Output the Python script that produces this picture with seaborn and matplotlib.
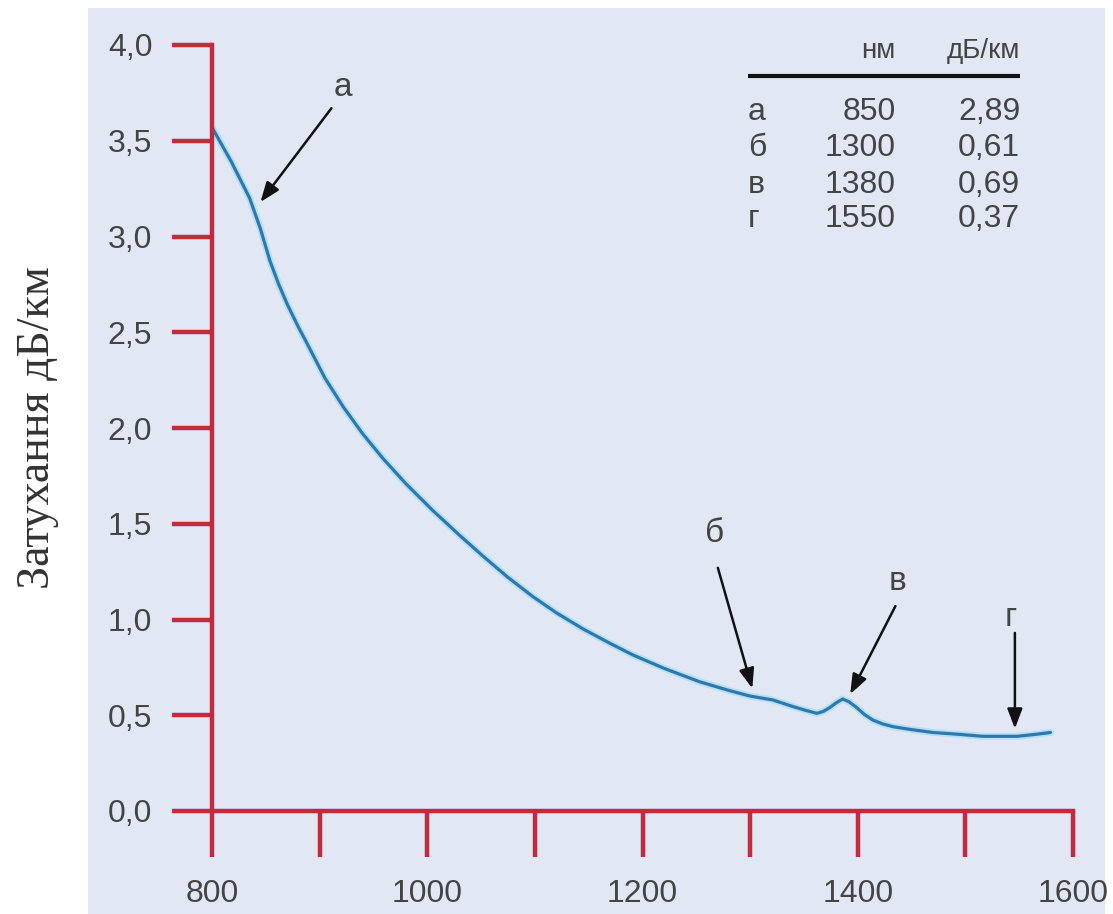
import numpy as np
import pandas as pd
import seaborn as sns
import matplotlib.pyplot as plt
from matplotlib.patches import Rectangle

# крива загасання (довжина хвилі, нм / дБ/км)
wavelength = [800, 818, 835, 845, 854, 862, 870, 880, 888, 905, 922, 940, 959, 980, 1005,
              1030, 1052, 1075, 1098, 1120, 1145, 1170, 1191, 1220, 1253, 1280, 1300,
              1321, 1340, 1352, 1362, 1368, 1374, 1380, 1386, 1392, 1399, 1406, 1414,
              1423, 1433, 1450, 1470, 1495, 1516, 1548, 1565, 1579]
attenuation = [3.57, 3.39, 3.20, 3.04, 2.87, 2.75, 2.645, 2.53, 2.445, 2.26, 2.11, 1.97,
               1.84, 1.71, 1.57, 1.44, 1.33, 1.22, 1.12, 1.035, 0.95, 0.875, 0.815, 0.745,
               0.675, 0.63, 0.60, 0.58, 0.545, 0.525, 0.51, 0.52, 0.54, 0.565, 0.585, 0.57,
               0.54, 0.505, 0.475, 0.455, 0.44, 0.425, 0.41, 0.40, 0.39, 0.39, 0.40, 0.41]

# таблиця у правому верхньому куті
marks = ["а", "б", "в", "г"]
mark_nm = [850, 1300, 1380, 1550]
mark_db = ["2,89", "0,61", "0,69", "0,37"]

# стрілки: (мітка, xy підпису, xy хвоста, xy вістря)
arrow_labels = ["а", "б", "в", "г"]
label_xy = [(922, 3.78), (1267, 1.45), (1437, 1.20), (1542, 1.01)]
tail_xy = [(911, 3.67), (1270, 1.27), (1435, 1.07), (1546, 0.93)]
head_xy = [(845, 3.18), (1302, 0.64), (1393, 0.61), (1546, 0.43)]

x_ticks = list(range(800, 1601, 100))
x_ticklabels = ["800", "", "1000", "", "1200", "", "1400", "", "1600"]
y_ticks = [0, 0.5, 1.0, 1.5, 2.0, 2.5, 3.0, 3.5, 4.0]

sns.set_theme(style="ticks")
sans = ["Liberation Sans Narrow", "Liberation Sans", "DejaVu Sans"]
plt.rcParams["font.family"] = sans

red = "#c42a3c"
txt = "#444444"

df = pd.DataFrame({"nm": wavelength, "db": attenuation})

fig = plt.figure(figsize=(11.13, 9.14), dpi=100, facecolor="white")
fig.patches.append(Rectangle((88 / 1113, 0), (1105 - 88) / 1113, (914 - 8) / 914,
                             transform=fig.transFigure, facecolor="#e1e8f4",
                             edgecolor="none", zorder=-10))
ax = fig.add_axes([212 / 1113, 1 - 811 / 914, (1073 - 212) / 1113, (811 - 45) / 914])
ax.set_facecolor("none")
ax.set_zorder(1)

sns.lineplot(data=df, x="nm", y="db", ax=ax, color="#b5e0f5", lw=5, zorder=2)
sns.lineplot(data=df, x="nm", y="db", ax=ax, color="#2f78ad", lw=2.3, zorder=3)

ax.set_xlim(800, 1600)
ax.set_ylim(0, 4)
for s in ["top", "right"]:
    ax.spines[s].set_visible(False)
for s in ["left", "bottom"]:
    ax.spines[s].set_color(red)
    ax.spines[s].set_linewidth(3.2)
    ax.spines[s].set_zorder(4)

ax.set_xticks(x_ticks)
ax.set_xticklabels(x_ticklabels)
ax.set_yticks(y_ticks)
ax.set_yticklabels([f"{v:.1f}".replace(".", ",") for v in y_ticks])
ax.tick_params(axis="x", direction="out", length=33, width=3.2, color=red,
               pad=16, labelsize=23, labelcolor=txt)
ax.tick_params(axis="y", direction="out", length=29, width=3.2, color=red,
               pad=14, labelsize=23, labelcolor=txt)

ax.set_xlabel("")
ax.set_ylabel("Затухання дБ/км", family=["Liberation Serif", "DejaVu Serif"],
              fontsize=33, color="#333333")
ax.yaxis.set_label_coords(-0.178, 0.5)

# стрілки з підписами
for lab, lxy, txy, hxy in zip(arrow_labels, label_xy, tail_xy, head_xy):
    ax.text(lxy[0], lxy[1], lab, fontsize=24, color=txt, ha="center", va="center")
    ax.annotate("", xy=hxy, xytext=txy,
                arrowprops=dict(arrowstyle="-|>,head_length=1.0,head_width=0.38",
                                color="#111111", lw=1.8, shrinkA=0, shrinkB=0),
                zorder=5)

# таблиця
col_mark, col_nm, col_db = 1298, 1435, 1551
ax.text(col_nm, 3.97, "нм", fontsize=20, color=txt, ha="right", va="center")
ax.text(col_db, 3.97, "дБ/км", fontsize=20, color=txt, ha="right", va="center")
ax.plot([col_mark, col_db], [3.84, 3.84], color="#111111", lw=3, solid_capstyle="butt")
row_y = [3.65, 3.46, 3.27, 3.09]
for m, n, d, yy in zip(marks, mark_nm, mark_db, row_y):
    ax.text(col_mark, yy, m, fontsize=23, color=txt, ha="left", va="center")
    ax.text(col_nm, yy, str(n), fontsize=23, color=txt, ha="right", va="center")
    ax.text(col_db, yy, d, fontsize=23, color=txt, ha="right", va="center")

fig.savefig("out.png", dpi=100, facecolor="white")
